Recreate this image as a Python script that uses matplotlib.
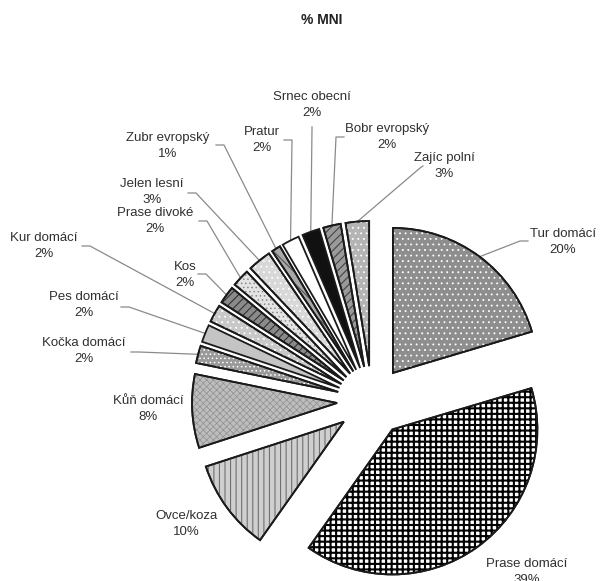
import matplotlib
matplotlib.use("Agg")
import matplotlib.pyplot as plt
from matplotlib.patches import Wedge
import numpy as np

plt.rcParams['font.family'] = ['Liberation Sans', 'DejaVu Sans']

title = "% MNI"
categories = ["Tur domácí", "Prase domácí", "Ovce/koza", "Kůň domácí", "Kočka domácí",
              "Pes domácí", "Kur domácí", "Kos", "Prase divoké", "Jelen lesní",
              "Zubr evropský", "Pratur", "Srnec obecní", "Bobr evropský", "Zajíc polní"]
values = [20.4, 39.4, 10.2, 8.2, 1.95, 1.95, 1.95, 1.95, 1.95, 2.6,
          1.0, 1.95, 1.95, 1.95, 2.6]

# styles (face, hatch, hatch colour, hatch linewidth)
styles = [
    ("#8e8e8e", "...", "white", 0.6),
    ("white", "+++", "black", 1.5),
    ("#cfcfcf", "|||", "#707070", 0.8),
    ("#bdbdbd", "xxxxx", "#8f8f8f", 0.5),
    ("#9a9a9a", "....", "white", 0.6),
    ("#c4c4c4", "", None, 0),
    ("#c8c8c8", "...", "white", 0.6),
    ("#8a8a8a", "////", "#333333", 0.8),
    ("#e4e4e4", "....", "#8a8a8a", 0.6),
    ("#d8d8d8", "...", "white", 0.6),
    ("#a8a8a8", "\\\\\\", "#555555", 0.8),
    ("white", "", None, 0),
    ("#111111", "", None, 0),
    ("#9a9a9a", "////", "#444444", 0.8),
    ("#b4b4b4", "...", "white", 0.6),
]

W, H = 600, 581
fig = plt.figure(figsize=(6, 5.81), dpi=100)
ax = fig.add_axes([0, 0, 1, 1])

cx, cy, R, ex = 372, H - 401, 145, 35
wedges, _ = ax.pie(values, center=(cx, cy), radius=R, startangle=90,
                   counterclock=False, explode=[ex] * len(values),
                   wedgeprops=dict(edgecolor="#1a1a1a", linewidth=1.3))
ax.set_xlim(0, W)
ax.set_ylim(0, H)
ax.set_aspect('equal')
ax.axis('off')

for w, (fc, hatch, hc, hlw) in zip(wedges, styles):
    w.set_facecolor(fc)
    if hatch:
        with plt.rc_context({'hatch.linewidth': hlw}):
            ov = Wedge(w.center, w.r, w.theta1, w.theta2, facecolor='none',
                       edgecolor=hc, linewidth=0, hatch=hatch,
                       zorder=w.get_zorder() + 0.1)
        ax.add_patch(ov)
        border = Wedge(w.center, w.r, w.theta1, w.theta2, facecolor='none',
                       edgecolor="#1a1a1a", linewidth=1.3,
                       zorder=w.get_zorder() + 0.2)
        ax.add_patch(border)

# label layout: text centre (x, y from top) and leader start/elbow points
label_pos = {
    "Tur domácí": (563, 242),
    "Prase domácí": (527, 572),
    "Ovce/koza": (186, 524),
    "Kůň domácí": (148, 409),
    "Kočka domácí": (84, 351),
    "Pes domácí": (84, 305),
    "Kur domácí": (44, 246),
    "Kos": (185, 275),
    "Prase divoké": (155, 221),
    "Jelen lesní": (152, 192),
    "Zubr evropský": (168, 146),
    "Pratur": (262, 140),
    "Srnec obecní": (312, 105),
    "Bobr evropský": (387, 137),
    "Zajíc polní": (444, 166),
}
leaders = {
    "Tur domácí": [(528, 241), (520, 241)],
    "Kočka domácí": [(131, 352), (139, 352)],
    "Pes domácí": [(121, 307), (129, 307)],
    "Kur domácí": [(82, 246), (90, 246)],
    "Kos": [(198, 274), (206, 274)],
    "Prase divoké": [(199, 221), (207, 221)],
    "Jelen lesní": [(188, 193), (196, 193)],
    "Zubr evropský": [(216, 145), (224, 145)],
    "Pratur": [(284, 140), (292, 140)],
    "Srnec obecní": [(312, 127), (312, 129)],
    "Bobr evropský": [(344, 137), (336, 137)],
    "Zajíc polní": [(423, 166), (420, 168)],
}

total = sum(values)
for w, cat, v in zip(wedges, categories, values):
    tx, ty = label_pos[cat]
    ax.text(tx, H - ty, f"{cat}\n{round(100 * v / total)}%", ha='center', va='center',
            fontsize=9.5, color="#303030", linespacing=1.55)
    if cat in leaders:
        th = np.deg2rad((w.theta1 + w.theta2) / 2)
        px = w.center[0] + w.r * np.cos(th)
        py = w.center[1] + w.r * np.sin(th)
        pts = [(x, H - y) for x, y in leaders[cat]] + [(px, py)]
        xs, ys = zip(*pts)
        ax.plot(xs, ys, color="#8a8a8a", linewidth=0.9, zorder=0.5)

ax.text(322, H - 20, title, ha='center', va='center', fontsize=10,
        fontweight='bold', color="#222222")

fig.savefig("out.png", dpi=100)
